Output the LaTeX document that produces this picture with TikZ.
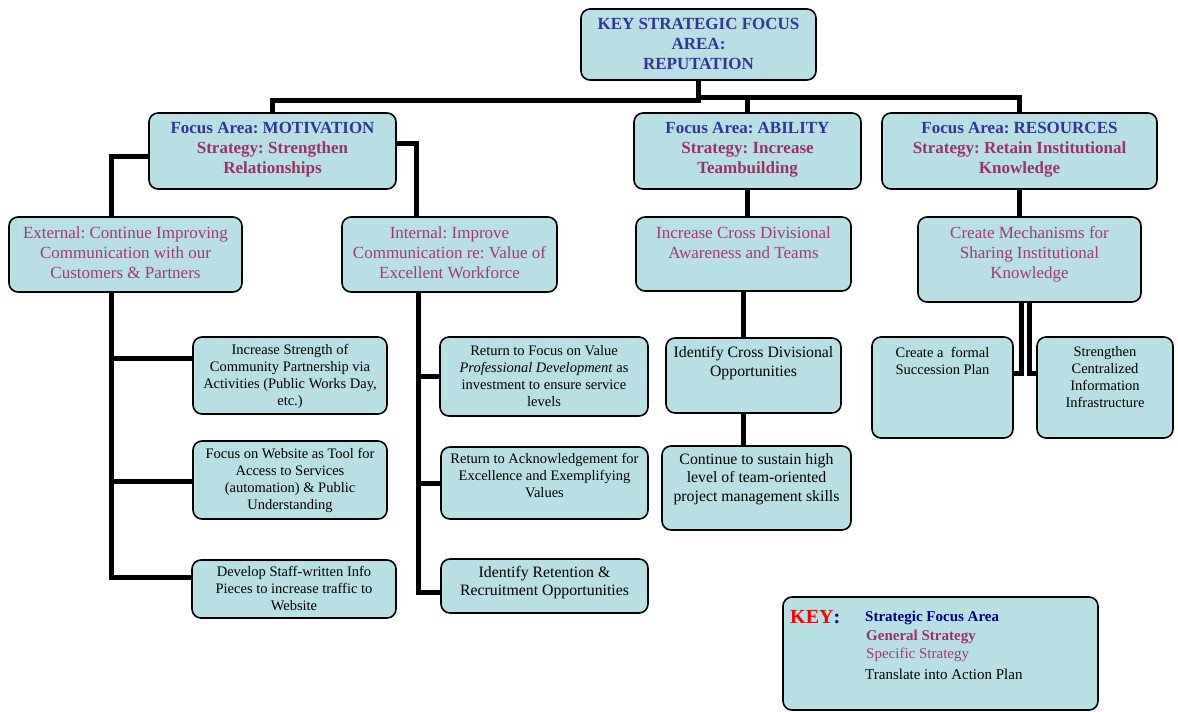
\documentclass[tikz,border=0pt]{standalone}
\usepackage{fontspec}
\setmainfont{Liberation Serif}
\frenchspacing
\definecolor{bfill}{RGB}{184,223,227}
\definecolor{fblue}{RGB}{51,51,153}
\definecolor{fmar}{RGB}{153,51,102}
\definecolor{fmar2}{RGB}{160,60,112}
\definecolor{fnavy}{RGB}{0,0,128}
\tikzset{
  box/.style={draw, line width=1.6pt, rounded corners=9pt, fill=bfill, inner sep=0pt},
  conn/.style={line width=5pt, black},
  hdr/.style={align=center, inner sep=0pt, font=\fontsize{17}{20}\selectfont\bfseries},
  gen/.style={align=center, inner sep=0pt, text=fmar2, font=\fontsize{17}{20}\selectfont},
  leaf/.style={align=center, inner sep=0pt, text=black, font=\fontsize{14.5}{17}\selectfont},
  leafb/.style={align=center, inner sep=0pt, text=black, font=\fontsize{15.8}{18.5}\selectfont},
  keyt/.style={anchor=west, inner sep=0pt, font=\fontsize{15}{18}\selectfont},
}
\begin{document}
\begin{tikzpicture}[x=1pt,y=-1pt]
\useasboundingbox (0,0) rectangle (1178,712);

% ---- boxes
\node[box, minimum width=235pt, minimum height=71pt] (top) at (698.5,44.5) {};
\node[box, minimum width=247pt, minimum height=76pt] (mot) at (272.5,151) {};
\node[box, minimum width=227pt, minimum height=76pt] (abi) at (747.5,151) {};
\node[box, minimum width=275pt, minimum height=76pt] (res) at (1019.5,151) {};
\node[box, minimum width=233pt, minimum height=75pt] (ext) at (125.5,254.5) {};
\node[box, minimum width=215pt, minimum height=75pt] (int) at (449.5,254.5) {};
\node[box, minimum width=215pt, minimum height=74pt] (inc) at (743.5,254) {};
\node[box, minimum width=223pt, minimum height=85pt] (cm) at (1029.5,259.5) {};
\node[box, minimum width=194pt, minimum height=77pt] (l1) at (290,375.5) {};
\node[box, minimum width=194pt, minimum height=78pt] (l2) at (290,480) {};
\node[box, minimum width=204pt, minimum height=58pt] (l3) at (294,589) {};
\node[box, minimum width=208pt, minimum height=79pt] (m1) at (544,376.5) {};
\node[box, minimum width=207pt, minimum height=72pt] (m2) at (544.5,483) {};
\node[box, minimum width=207pt, minimum height=54pt] (m3) at (544.5,586) {};
\node[box, minimum width=175pt, minimum height=75pt] (idc) at (753.5,375.5) {};
\node[box, minimum width=189pt, minimum height=84pt] (cont) at (756.5,488) {};
\node[box, minimum width=141pt, minimum height=101pt] (suc) at (942.5,387.5) {};
\node[box, minimum width=136pt, minimum height=101pt] (stg) at (1105,387.5) {};
\node[box, minimum width=315pt, minimum height=113pt] (key) at (940.5,653.5) {};

% ---- texts
\node[hdr, text=fblue] (ttop) at (698.5,43.5) {KEY STRATEGIC FOCUS\\AREA:\\REPUTATION};
\node[hdr] (tmot) at (272.5,150) {{\color{fblue}Focus Area: MOTIVATION}\\{\color{fmar}Strategy: Strengthen}\\{\color{fmar}Relationships}};
\node[hdr] (tabi) at (747.5,150) {{\color{fblue}Focus Area: ABILITY}\\{\color{fmar}Strategy: Increase}\\{\color{fmar}Teambuilding}};
\node[hdr] (tres) at (1019.5,150) {{\color{fblue}Focus Area: RESOURCES}\\{\color{fmar}Strategy: Retain Institutional}\\{\color{fmar}Knowledge}};
\node[gen] (text) at (125.5,253) {External: Continue Improving\\Communication with our\\Customers \& Partners};
\node[gen] (tint) at (449.5,253) {Internal: Improve\\Communication re: Value of\\Excellent Workforce};
\node[gen] (tinc) at (743.5,243) {Increase Cross Divisional\\Awareness and Teams};
\node[gen] (tcm) at (1029.5,254) {Create Mechanisms for\\Sharing Institutional\\Knowledge};
\node[leaf] (tl1) at (290,376) {Increase Strength of\\Community Partnership via\\Activities (Public Works Day,\\etc.)};
\node[leaf] (tl2) at (290,480.5) {Focus on Website as Tool for\\Access to Services\\(automation) \& Public\\Understanding};
\node[leaf] (tl3) at (294,588.5) {Develop Staff-written Info\\Pieces to increase traffic to\\Website};
\node[leaf] (tm1) at (544,376.5) {Return to Focus on Value\\\textit{Professional Development} as\\investment to ensure service\\levels};
\node[leaf] (tm2) at (544.5,475) {Return to Acknowledgement for\\Excellence and Exemplifying\\Values};
\node[leafb] (tm3) at (544.5,582.5) {Identify Retention \&\\Recruitment Opportunities};
\node[leafb] (tidc) at (753.5,363) {Identify Cross Divisional\\Opportunities};
\node[leafb] (tcont) at (756.5,479) {Continue to sustain high\\level of team-oriented\\project management skills};
\node[leaf] (tsuc) at (942.5,360.5) {Create a\ \ formal\\Succession Plan};
\node[leaf] (tstg) at (1105,377.5) {Strengthen\\Centralized\\Information\\Infrastructure};

% ---- key
\node[anchor=west, inner sep=0pt, font=\fontsize{20}{22}\selectfont\bfseries] (kkey) at (790,617) {\color{red}KEY\color{fnavy}:};
\node[keyt, text=fnavy, font=\fontsize{15}{18}\selectfont\bfseries] (k1) at (865,618) {Strategic Focus Area};
\node[keyt, text=fmar, font=\fontsize{15}{18}\selectfont\bfseries] (k2) at (866,637) {General Strategy};
\node[keyt, text=fmar2] (k3) at (866,655) {Specific Strategy};
\node[keyt, text=black] (k4) at (865,674) {Translate into Action Plan};

% ---- connectors
\coordinate (jl) at (698.5,100);
\coordinate (jr) at (698.5,97);
\draw[conn] (top.south) -- (jl) -| (mot.north);
\draw[conn] (jr) -| (abi.north);
\draw[conn] (jr) -| (res.north);

\draw[conn] ([yshift=-5pt]mot.west) -| ([xshift=-14.5pt]ext.north);
\draw[conn] ([yshift=8pt]mot.east) -| ([xshift=-33pt]int.north);

\draw[conn] ([xshift=-14.5pt]ext.south) |- ([yshift=17pt]l1.west);
\draw[conn] ([xshift=-14.5pt]ext.south) |- ([yshift=-1pt]l2.west);
\draw[conn] ([xshift=-14.5pt]ext.south) |- ([yshift=12pt]l3.west);

\draw[conn] ([xshift=-31.5pt]int.south) |- (m1.west);
\draw[conn] ([xshift=-31.5pt]int.south) |- (m2.west);
\draw[conn] ([xshift=-31.5pt]int.south) |- ([yshift=-6pt]m3.west);

\draw[conn] (abi.south) -- (abi.south |- inc.north);
\draw[conn] (inc.south) -- (inc.south |- idc.north);
\draw[conn] (inc.south |- idc.south) -- (inc.south |- cont.north);

\draw[conn] (res.south) -- (res.south |- cm.north);
\draw[conn] ([xshift=-8pt]cm.south) |- ([yshift=14pt]suc.east);
\draw[conn] (cm.south) |- ([yshift=14pt]stg.west);
\end{tikzpicture}
\end{document}
